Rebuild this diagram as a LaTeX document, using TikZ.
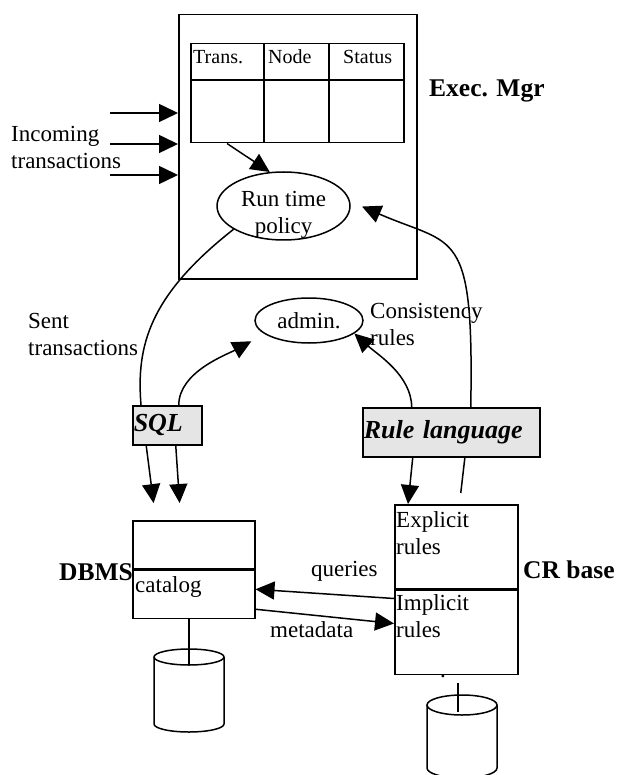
\documentclass[tikz,border=0pt]{standalone}
\usepackage{fontspec}
\setmainfont{Liberation Serif}
\usetikzlibrary{shapes.geometric, arrows.meta, positioning, backgrounds}

\begin{document}
\begin{tikzpicture}[x=1pt, y=-1pt, font=\fontsize{23}{27}\selectfont]
\tikzstyle{box} = [rectangle, draw, line width=1.5pt, inner sep=0pt]
\tikzstyle{lang} = [box, fill=gray!20, font=\fontsize{26}{30}\selectfont\bfseries\itshape, align=left, inner xsep=1pt, anchor=north west]
\tikzstyle{oval} = [ellipse, draw, line width=1.5pt, inner sep=0pt]
\tikzstyle{title} = [font=\fontsize{25.5}{30}\selectfont\bfseries, inner sep=0pt]
\tikzstyle{hdr} = [font=\fontsize{20}{24}\selectfont, inner sep=1pt, anchor=base west]
\tikzstyle{txt} = [align=left, inner sep=1pt]
\tikzstyle{line} = [draw, line width=1.5pt, -{Triangle[length=19pt, width=18pt]}]
\tikzstyle{plain} = [draw, line width=1.5pt]

\useasboundingbox (0,0) rectangle (620,775);

% execution manager
\node (exec) [box, minimum width=238pt, minimum height=264pt, anchor=north west] at (178,14) {};
\node (tbl) [box, minimum width=213pt, minimum height=99pt, anchor=north west] at (190,43) {};
\draw [plain] (tbl.west |- 0,80) -- (tbl.east |- 0,80);
\foreach \x in {264,329}
    \draw [plain] (tbl.north -| \x,0) -- (tbl.south -| \x,0);
\node [hdr] at (192,64) {Trans.};
\node [hdr] at (267,64) {Node};
\node [hdr] at (342,64) {Status};
\node (runtime) [oval, minimum width=133pt, minimum height=68pt] at (283.5,206) {};
\node (policy) [align=center, inner sep=1pt, anchor=north] at (283.5,190) {Run time\\policy};
\node (execlbl) [title, anchor=base west] at (429,96.7) {Exec. Mgr};

\foreach \y [count=\i] in {113,144,175} {
    \coordinate (in\i) at (110,\y);
    \draw [line] (in\i) -- (in\i -| exec.west);
}
\node (incoming) [txt, anchor=north west] at (10,125) {Incoming\\transactions};

% languages and admin
\node (sql) [lang, minimum width=69pt, minimum height=39pt, text width=67pt] at (132,405) {SQL};
\node (rule) [lang, minimum width=177pt, minimum height=49pt, text width=175pt] at (362,407) {Rule language};
\node (admin) [oval, minimum width=108pt, minimum height=45pt] at (309,320.5) {admin.};
\node (sent) [txt, anchor=north west] at (27,311.6) {Sent\\transactions};
\node (consist) [txt, anchor=north west] at (369,301.6) {Consistency\\rules};

% dbms and cr base
\node (dbms) [box, minimum width=122pt, minimum height=48pt, anchor=north west] at (132,520) {};
\node (catalog) [box, minimum width=122pt, minimum height=48pt, below=0pt of dbms] {};
\node (cattxt) [inner sep=1pt, anchor=base west] at (134,592) {catalog};
\node (dbmslbl) [title, anchor=base east] at (133,580) {DBMS};
\node (crtop) [box, minimum width=123pt, minimum height=84pt, anchor=north west] at (394,504) {};
\node (crbot) [box, minimum width=123pt, minimum height=84pt, below=0pt of crtop] {};
\node (explicit) [txt, anchor=north west] at (395,510) {Explicit\\rules};
\node (implicit) [txt, anchor=north west] at (395,593.3) {Implicit\\rules};
\node (crlbl) [title, anchor=base west] at (523,578.3) {CR base};
\node (dot) [inner sep=0pt] at (443,676) {.};

% disks
\coordinate (db1) at (189,649);
\coordinate (db2) at (462,695);
\foreach \cx/\top/\ry in {189/649/8, 462/695/10} {
    \draw [plain] (\cx,\top+\ry) ellipse [x radius=35pt, y radius=\ry pt];
    \draw [plain] (\cx-35,\top+\ry) -- (\cx-35,\top+83-\ry) arc [start angle=180, end angle=360, x radius=35pt, y radius=\ry pt] -- (\cx+35,\top+\ry);
}

% connectors
\draw [line] ([xshift=37pt]tbl.south west) -- (runtime.112);
\begin{pgfonlayer}{background}
    \draw [line, shorten >=17pt] (runtime.205) .. controls (150,295) and (136,345) .. ([xshift=9pt]sql.north west) -- ([xshift=-38pt]dbms.north);
    \draw [line, shorten >=13pt] ([shift={(4.5pt,11pt)}]crtop.north) -- ([xshift=19.5pt]rule.north) .. controls (474,225) and (455,247) .. (runtime.4);
\end{pgfonlayer}
\draw [line, shorten >=17pt] ([xshift=8.5pt]sql.south) -- ([xshift=-13pt]dbms.north);
\draw [line, shorten >=15pt] ([xshift=11.5pt]sql.north) .. controls (179,372) and (226,355) .. (admin.197);
\draw [line] ([xshift=-39.5pt]rule.north) .. controls (411,375) and (378,355) .. (admin.-16);
\draw [line] ([xshift=-38.5pt]rule.south) -- ([xshift=14pt]crtop.north west);
\draw [line] ([yshift=-9pt]crbot.north west) -- ([yshift=5pt]catalog.east);
\draw [line] ([yshift=-15pt]catalog.east) -- ([yshift=-34pt]crbot.north west);
\node (qlbl) [inner sep=0pt, anchor=base west] at (311,576.7) {queries};
\node (mlbl) [inner sep=0pt, anchor=base west] at (270,637.7) {metadata};
\coordinate (crfoot) at ([yshift=-8pt]crbot.south);
\draw [plain] (catalog.south -| db1) -- ([yshift=-16pt]db1);
\draw [plain] ([xshift=-4pt]crfoot -| db2) -- ([shift={(-4pt,-17pt)}]db2);
\end{tikzpicture}
\end{document}
